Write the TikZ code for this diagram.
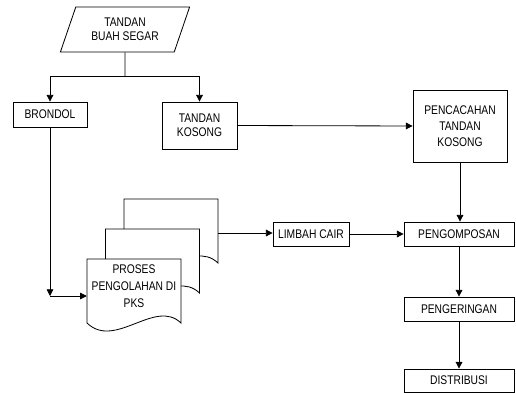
\documentclass[tikz,border=0pt]{standalone}
\usepackage{fontspec}
\setmainfont{Liberation Sans}[FakeStretch=0.82]
\usetikzlibrary{arrows.meta,shapes.geometric,calc}

\begin{document}
\begin{tikzpicture}[x=0.03cm,y=-0.03cm,>={Triangle[length=2mm,width=2mm]},
  every node/.style={font=\fontsize{10.7}{12}\selectfont},
  box/.style={draw,rectangle,align=center,inner sep=1pt,line width=0.7pt},
  link/.style={->,line width=0.7pt}]
  \useasboundingbox (0,0) rectangle (516,393);
  % input
  \node[draw,line width=0.7pt,trapezium,trapezium left angle=69,trapezium right angle=111,
        trapezium stretches=true,minimum width=3.9cm,minimum height=1.35cm,align=center]
        (tbs) at (125,29.5) {TANDAN\\BUAH SEGAR};
  \node[box,minimum width=2.22cm,minimum height=0.75cm] (brondol) at (50,114.5) {BRONDOL};
  \node[box,minimum width=2.25cm,minimum height=1.41cm] (tkosong) at (199.5,125.5) {TANDAN\\KOSONG};
  \node[box,minimum width=2.82cm,minimum height=2.16cm,font=\fontsize{10.7}{13.7}\selectfont]
        (pencacahan) at (460,126) {PENCACAHAN\\TANDAN\\KOSONG};
  \node[box,minimum width=2.28cm,minimum height=0.72cm] (limbah) at (311,234) {LIMBAH CAIR};
  \node[box,minimum width=3.3cm,minimum height=0.72cm] (pengomposan) at (459,234) {PENGOMPOSAN};
  \node[box,minimum width=3.3cm,minimum height=0.72cm] (pengeringan) at (459,309) {PENGERINGAN};
  \node[box,minimum width=3.3cm,minimum height=0.69cm] (distribusi) at (459,380.5) {DISTRIBUSI};
  % stacked documents
  \foreach \dx/\dy in {37/-60,18.5/-30,0/0}
    \draw[line width=0.7pt,fill=white,shift={(\dx,\dy)}] (87,323) -- (87,259) -- (181,259) -- (181,323)
      .. controls (155,298) and (115,350) .. (87,323);
  \node[align=center,minimum width=2.82cm,font=\fontsize{10.7}{14.5}\selectfont]
        (pks) at (134,286) {PROSES\\PENGOLAHAN DI\\PKS};
  \coordinate (backdoc) at (218,233);
  % connectors
  \coordinate (split) at (125,76);
  \coordinate (bend) at (50,296);
  \draw[line width=0.7pt] (tbs.south) -- (split);
  \draw[link] (split) -| (brondol.north);
  \draw[link] (split) -| (tkosong.north);
  \draw[link] (brondol.south) -- (bend);
  \draw[link] (bend) -- (bend -| pks.west);
  \draw[link] (tkosong.east) -- (pencacahan.west);
  \draw[link] (pencacahan.south) -- (pencacahan.south |- pengomposan.north);
  \draw[link] (backdoc) -- (backdoc -| limbah.west);
  \draw[link] (limbah.east) -- (pengomposan.west);
  \draw[link] (pengomposan.south) -- (pengeringan.north);
  \draw[link] (pengeringan.south) -- (distribusi.north);
\end{tikzpicture}
\end{document}
